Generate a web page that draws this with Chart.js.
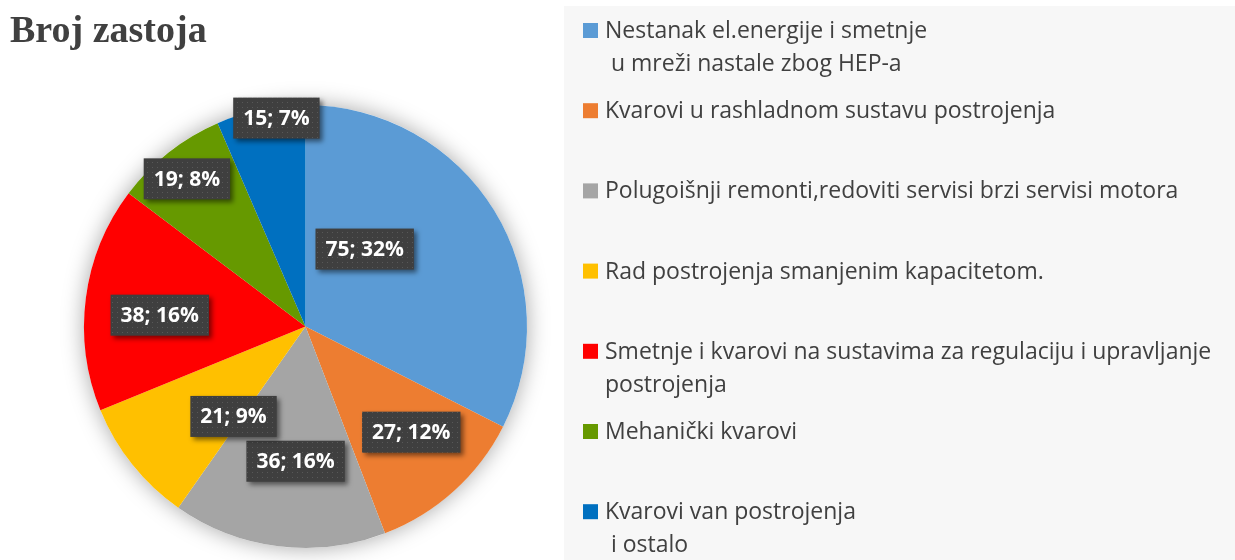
<!DOCTYPE html>
<html>
<head>
<meta charset="utf-8">
<script src="https://cdn.jsdelivr.net/npm/chart.js@4.4.0/dist/chart.umd.min.js"></script>
<style>
  html, body { margin: 0; padding: 0; background: #fff; }
  #wrap { width: 1235px; height: 560px; }
</style>
</head>
<body>
<div id="wrap"><canvas id="pieChart" width="1235" height="560"></canvas></div>
<script>
// podaci
const chartTitle = "Broj zastoja";
const categories = [
  ["Nestanak el.energije i smetnje", " u mreži nastale zbog HEP-a"],
  ["Kvarovi u rashladnom sustavu postrojenja"],
  ["Polugoišnji remonti,redoviti servisi brzi servisi motora"],
  ["Rad postrojenja smanjenim kapacitetom."],
  ["Smetnje i kvarovi na sustavima za regulaciju i upravljanje", "postrojenja"],
  ["Mehanički kvarovi"],
  ["Kvarovi van postrojenja", " i ostalo"],
];
const stopCounts = [75, 27, 36, 21, 38, 19, 15];
const stopPercents = [32, 12, 16, 9, 16, 8, 7];
const sliceColors = ["#5b9bd5", "#ed7d31", "#a5a5a5", "#ffc000", "#ff0000", "#669900", "#0070c0"];

// gdje stoje oznake unutar kriške (udio kuta, udio radijusa)
const labelAngleFrac = [0.32, 0.43, 0.45, 0.11, 0.45, 0.48, 0.66];
const labelRadiusFrac = [0.44, 0.675, 0.61, 0.52, 0.66, 0.855, 0.95];

const textColor = "#404040";

// tamna podloga s točkicama za oznake
function dotPattern(ctx) {
  const c = document.createElement("canvas");
  c.width = 5;
  c.height = 5;
  const g = c.getContext("2d");
  g.fillStyle = "#3f3f3f";
  g.fillRect(0, 0, 5, 5);
  g.fillStyle = "#585858";
  g.fillRect(2, 2, 1, 1);
  return ctx.createPattern(c, "repeat");
}

// naslov i legenda (panel desno)
const sidePanel = {
  id: "sidePanel",
  beforeDraw(chart) {
    const ctx = chart.ctx;
    ctx.save();
    ctx.fillStyle = "#ffffff";
    ctx.fillRect(0, 0, chart.width, chart.height);
    ctx.fillStyle = "#f7f7f7";
    ctx.fillRect(564, 6, chart.width - 564, chart.height - 6);

    ctx.fillStyle = textColor;
    ctx.font = "bold 38px 'Liberation Serif', 'Times New Roman', serif";
    ctx.textBaseline = "alphabetic";
    ctx.fillText(chartTitle, 10, 42);

    const colors = chart.data.datasets[0].backgroundColor;
    ctx.font = "23px 'Open Sans', Lato, sans-serif";
    chart.data.labels.forEach((lines, i) => {
      const base = 38 + i * 80.2;
      ctx.fillStyle = colors[i];
      ctx.fillRect(583, base - 15, 15, 15);
      ctx.fillStyle = textColor;
      lines.forEach((line, j) => {
        ctx.fillText(line, 605, base + j * 33);
      });
    });
    ctx.restore();
  },
  beforeDatasetsDraw(chart) {
    const arc = chart.getDatasetMeta(0).data[0];
    if (!arc) return;
    const ctx = chart.ctx;
    ctx.save();
    ctx.shadowColor = "rgba(0,0,0,0.35)";
    ctx.shadowBlur = 22;
    ctx.fillStyle = "#ffffff";
    ctx.beginPath();
    ctx.arc(arc.x, arc.y, arc.outerRadius, 0, Math.PI * 2);
    ctx.fill();
    ctx.restore();
  },
};

// oznake "vrijednost; postotak"
const sliceLabels = {
  id: "sliceLabels",
  afterDatasetsDraw(chart) {
    const ctx = chart.ctx;
    const pattern = dotPattern(ctx);
    const values = chart.data.datasets[0].data;
    chart.getDatasetMeta(0).data.forEach((arc, i) => {
      const a = arc.startAngle + labelAngleFrac[i] * (arc.endAngle - arc.startAngle);
      const r = arc.outerRadius * labelRadiusFrac[i];
      const x = arc.x + Math.cos(a) * r;
      const y = arc.y + Math.sin(a) * r;
      const text = `${values[i]}; ${stopPercents[i]}%`;
      ctx.save();
      ctx.font = "bold 21px 'Open Sans', Lato, sans-serif";
      const w = ctx.measureText(text).width + 20;
      const h = 41;
      ctx.shadowColor = "rgba(0,0,0,0.5)";
      ctx.shadowBlur = 5;
      ctx.shadowOffsetX = 3;
      ctx.shadowOffsetY = 3;
      ctx.fillStyle = pattern;
      ctx.fillRect(x - w / 2, y - h / 2, w, h);
      ctx.shadowColor = "transparent";
      ctx.fillStyle = "#ffffff";
      ctx.textAlign = "center";
      ctx.textBaseline = "middle";
      ctx.fillText(text, x, y + 1);
      ctx.restore();
    });
  },
};

const pieCtx = document.getElementById("pieChart").getContext("2d");
new Chart(pieCtx, {
  type: "pie",
  data: {
    labels: categories,
    datasets: [
      {
        data: stopCounts,
        backgroundColor: sliceColors,
        borderWidth: 0,
      },
    ],
  },
  options: {
    responsive: false,
    animation: false,
    layout: {
      padding: { left: 84, right: 708, top: 105, bottom: 12 },
    },
    plugins: {
      legend: { display: false },
      title: { display: false },
      tooltip: { enabled: false },
    },
  },
  plugins: [sidePanel, sliceLabels],
});
</script>
</body>
</html>
